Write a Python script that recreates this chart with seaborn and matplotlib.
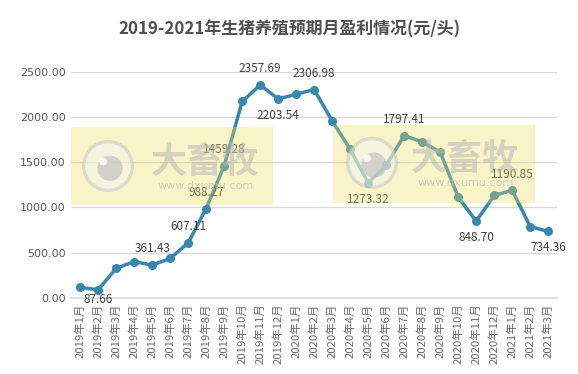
import numpy as np
import pandas as pd
import seaborn as sns
import matplotlib.pyplot as plt
from matplotlib.patches import Rectangle, Ellipse

sns.set_theme(style='white')
plt.rcParams['font.family'] = ['Noto Sans CJK SC', 'DejaVu Sans']

# 月份与预期盈利 (元/头)
meses = ['2019年1月', '2019年2月', '2019年3月', '2019年4月', '2019年5月', '2019年6月',
         '2019年7月', '2019年8月', '2019年9月', '2019年10月', '2019年11月', '2019年12月',
         '2020年1月', '2020年2月', '2020年3月', '2020年4月', '2020年5月', '2020年6月',
         '2020年7月', '2020年8月', '2020年9月', '2020年10月', '2020年11月', '2020年12月',
         '2021年1月', '2021年2月', '2021年3月']
ganancia = [115, 87.66, 325, 400, 361.43, 435, 607.11, 988.27, 1459.28, 2175, 2357.69, 2203.54,
            2255, 2306.98, 1960, 1645, 1273.32, 1467, 1797.41, 1726, 1615, 1115, 848.70, 1133,
            1190.85, 789, 734.36]

# indices con etiqueta y su posicion (arriba/abajo)
etiquetas = {1: 'low', 4: 'above', 6: 'above', 7: 'above', 8: 'above', 10: 'above',
             11: 'below', 13: 'above', 16: 'below', 18: 'above', 22: 'below', 24: 'above',
             26: 'below'}

df = pd.DataFrame({'mes': meses, 'valor': ganancia, 'x': range(len(meses))})

fig, ax = plt.subplots(figsize=(5.78, 3.74), dpi=100)
fig.subplots_adjust(left=0.123, right=0.964, top=0.807, bottom=0.204)

color = '#3a87ad'
sns.lineplot(data=df, x='x', y='valor', ax=ax, color=color, linewidth=2.5,
             marker='o', markersize=6.5, markeredgewidth=0, zorder=3)

for i, pos in etiquetas.items():
    v = ganancia[i]
    if pos == 'above':
        dy, va = 7, 'bottom'
    elif pos == 'below':
        dy, va = -7, 'top'
    else:
        dy, va = -2, 'top'
    ax.annotate(f'{v:.2f}', (i, v), xytext=(0, dy), textcoords='offset points',
                ha='center', va=va, fontsize=8.5, color='#404040', zorder=4)

ax.set_ylim(0, 2500)
ax.set_yticks(np.arange(0, 2501, 500))
ax.set_yticklabels([f'{t:.2f}' for t in np.arange(0, 2501, 500)], fontsize=8, color='#595959',
                   family=['DejaVu Sans'])
ax.set_xlim(-0.5, len(meses) - 0.5)
ax.set_xticks(range(len(meses)))
ax.set_xticklabels(meses, rotation=90, fontsize=8.2, color='#6a6a6a')
ax.tick_params(axis='both', length=0, pad=4)
ax.yaxis.grid(True, color='#d9d9d9', linewidth=1)
ax.set_axisbelow(True)
for s in ['top', 'right', 'left']:
    ax.spines[s].set_visible(False)
ax.spines['bottom'].set_color('#d9d9d9')
ax.set_xlabel('')
ax.set_ylabel('')

fig.suptitle('2019-2021年生猪养殖预期月盈利情况(元/头)', x=0.5, y=0.945,
             fontsize=12.2, fontweight='bold', color='#505050')

# marcas de agua (coordenadas del eje)
marcas = [((0.0, 0.41), (0.076, 0.584), (0.276, 0.598), (0.276, 0.496)),
          ((0.539, 0.42), (0.619, 0.598), (0.811, 0.611), (0.811, 0.509))]
for (bx, by), (cx, cy), (tx, ty), (ux, uy) in marcas:
    ax.add_patch(Rectangle((bx, by), 0.416, 0.345, transform=ax.transAxes, clip_on=False,
                           facecolor='#eedc5a', alpha=0.33, edgecolor='none', zorder=5))
    ax.add_patch(Ellipse((cx, cy), 0.1, 0.216, transform=ax.transAxes, clip_on=False,
                         facecolor='#f4f4f4', edgecolor='#c4c4c4', linewidth=2.5,
                         alpha=0.5, zorder=6))
    ax.add_patch(Ellipse((cx + 0.004, cy - 0.01), 0.052, 0.112, transform=ax.transAxes,
                         clip_on=False, facecolor='#bdbdbd', edgecolor='none',
                         alpha=0.6, zorder=6))
    ax.add_patch(Ellipse((cx - 0.01, cy + 0.02), 0.016, 0.034, transform=ax.transAxes,
                         clip_on=False, facecolor='white', edgecolor='none', alpha=0.8,
                         zorder=6))
    ax.text(tx, ty, '大畜牧', transform=ax.transAxes, fontsize=26, fontweight='bold',
            color='#b8b8b8', alpha=0.55, ha='center', va='center', zorder=6)
    ax.text(ux, uy, 'www.dxumu.com', transform=ax.transAxes, fontsize=8,
            color='#bdbdbd', alpha=0.7, ha='center', va='center', zorder=6,
            family=['DejaVu Sans'])

plt.savefig('out.png', dpi=100)
